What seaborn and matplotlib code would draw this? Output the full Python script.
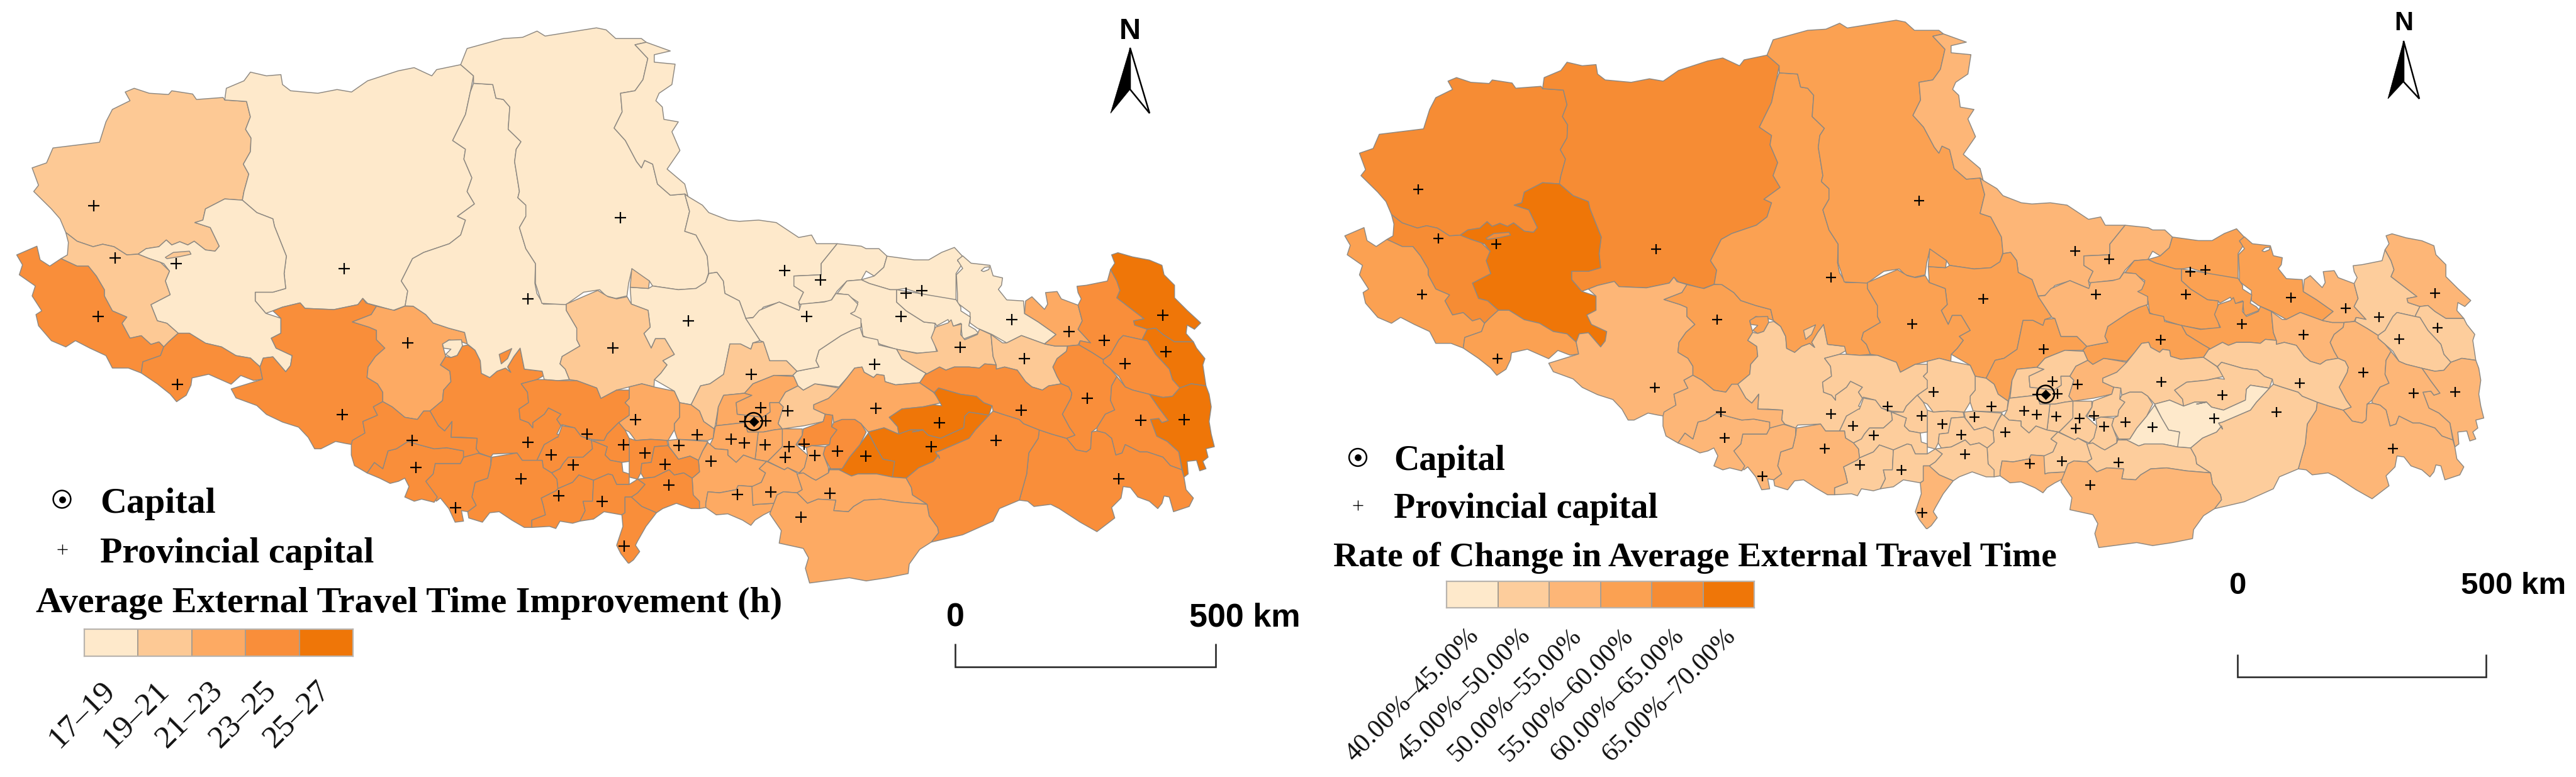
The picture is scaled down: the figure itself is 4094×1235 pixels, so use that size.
import matplotlib
matplotlib.use("Agg")
import matplotlib.pyplot as plt
from matplotlib.colors import ListedColormap
import numpy as np
import pandas as pd
import seaborn as sns

CROPS = {"A": (0, 0, 1.96, 2.53), "B": (0, 600, 1.96, 2.47), "C": (800, 0, 1.96, 2.53),
         "F": (500, 450, 3, 3), "G": (1000, 450, 3, 3), "H": (1450, 350, 3, 3)}

BORDERS = [
 ("Rutog", 1, 4, "A 390,370 418,355 465,375 525,380 535,365 600,378 612,400 695,392 700,402 768,408 780,470 765,520 782,555 780,610 758,660 775,700 760,770 755,805 700,800 640,840 632,885 607,895 655,915 683,990 670,1010 640,1005 605,970 585,985 560,972 535,985 518,965 495,992 455,1000 430,1022 395,1025 365,1000 355,992 320,982 290,992 240,970 205,935 187,880 160,840 105,770 120,745 100,675 145,655 165,595 260,580 310,572 330,490 350,440 405,405"),
 ("Gerze", 0, 4, "A 700,402 705,355 760,325 780,290 830,305 875,300 880,340 905,365 990,375 1050,360 1095,370 1145,325 1240,285 1290,272 1345,305 1360,280 1435,260 1475,305 1465,370 1450,460 1410,565 1450,600 1445,640 1470,715 1455,770 1478,820 1425,870 1450,885 1435,945 1400,980 1320,1015 1285,1040 1250,1130 1270,1170 1262,1230 1225,1248 1175,1230 1145,1220 1130,1200 1115,1225 1040,1245 950,1240 935,1218 880,1235 850,1250 828,1260 795,1210 795,1175 850,1175 890,1160 885,1100 892,1030 855,910 850,880 800,855 755,805 760,770 775,700 758,660 780,610 782,555 765,520 780,470 768,408"),
 ("Gar", 0, 5, "A 755,805 800,855 850,880 855,910 892,1030 885,1100 890,1160 850,1175 795,1175 795,1210 828,1260 875,1280 875,1340 845,1360 860,1400 910,1430 905,1470 890,1495 850,1435 820,1440 810,1475 780,1440 735,1430 690,1395 640,1380 590,1340 555,1340 520,1300 490,1290 470,1225 530,1185 515,1130 528,1090 510,1060 500,1055 465,1040 430,1022 455,1000 495,992 518,965 535,985 560,972 585,985 605,970 640,1005 670,1010 683,990 655,915 607,895 632,885 640,840 700,800"),
 ("GarIsle", 1, 4, "A 515,1035 540,1015 590,1010 595,1022 560,1032 520,1040"),
 ("Ngari", 1, 4, "A 205,935 240,970 290,992 320,982 355,992 365,1000 395,1025 430,1022 465,1040 500,1055 528,1090 515,1130 530,1185 470,1225 490,1290 520,1300 555,1340 525,1375 510,1395 495,1375 470,1385 440,1350 405,1360 380,1300 395,1275 350,1250 325,1190 325,1165 300,1110 275,1070 240,1070 190,1040 210,1025 213,975"),
 ("Zanda", 3, 3, "A 52,1025 115,990 125,1045 155,1070 190,1040 240,1070 275,1070 300,1110 325,1165 325,1190 350,1250 395,1275 380,1300 405,1360 440,1350 470,1385 495,1375 510,1395 500,1430 445,1455 440,1500 400,1480 350,1480 330,1430 280,1400 235,1370 205,1395 160,1370 120,1310 112,1265 130,1250 100,1190 110,1150 60,1105 70,1065"),
 ("Burang", 3, 3, "A 555,1340 590,1340 640,1380 690,1395 735,1430 780,1440 810,1475 818,1525 790,1530 750,1510 720,1545 650,1505 598,1520 B 595,30 580,70 550,95 530,65 490,25 A 440,1500 445,1455 500,1430 510,1395 525,1375"),
 ("Zhongba", 3, 2, "A 850,1250 880,1235 935,1218 950,1240 1040,1245 1115,1225 1130,1200 F 245,95 295,110 270,150 180,185 260,210 295,225 295,270 335,310 290,350 255,400 250,450 300,480 325,520 325,565 280,590 300,630 230,660 240,715 180,770 150,765 100,755 30,790 0,790 B 960,235 930,195 880,175 830,145 800,110 735,80 720,45 A 818,1525 810,1475 820,1440 850,1435 890,1495 905,1470 910,1430 860,1400 845,1360 875,1340 875,1280"),
 ("Coqen", 2, 3, "F 295,110 380,130 430,110 470,110 530,150 565,190 640,215 715,235 728,290 700,280 640,270 610,295 625,350 600,390 645,420 650,470 615,510 610,560 550,610 520,610 490,650 430,640 370,590 325,565 325,520 300,480 250,450 255,400 290,350 335,310 295,270 295,225 260,210 180,185 270,150"),
 ("CoqenPocket", 0, 3, "F 610,290 640,272 700,270 705,300 680,345 650,355 625,340 650,315 615,310"),
 ("Saga", 3, 1, "F 600,390 645,420 650,470 615,510 610,560 550,610 590,680 620,705 640,680 655,660 650,735 700,735 775,740 770,790 785,810 840,830 850,815 965,810 990,845 1060,845 1095,770 1160,735 1180,725 1155,720 1175,680 1155,650 1175,625 1115,595 1095,625 1040,665 1040,690 1020,665 980,650 975,600 1020,570 1015,520 985,480 1060,460 1095,440 1085,420 1000,410 980,310 950,350 920,400 935,425 910,405 870,420 835,450 795,430 790,370 765,320 730,295 705,300 680,345 650,355 625,350"),
 ("Nyima", 0, 3, "F 470,110 530,150 565,190 640,215 715,235 728,290 765,320 790,370 795,430 835,450 870,420 910,405 935,425 920,400 950,350 980,310 1000,410 1085,420 1095,460 1160,465 1215,460 1195,410 1170,385 1180,350 1265,300 1250,270 1250,215 1200,130 1200,100 1090,100 1060,50 1050,0 C 100,1060 70,1000 50,915 70,870 70,825 45,795 50,770 35,650 40,600 55,570 15,520 20,430 0,400 A 1545,395 1535,340 1475,335 1465,370 1450,460 1410,565 1450,600 1445,640 1470,715 1455,770 1478,820 1425,870 1450,885 1435,945 1400,980 1320,1015 1285,1040 1250,1130 1270,1170 1262,1230"),
 ("NyimaIsle", 3, 1, "F 880,340 940,312 920,360 890,385"),
 ("Shuanghu", 0, 3, "A 1435,260 1455,195 1568,155 C 60,150 105,125 130,145 290,112 320,120 350,155 430,155 445,170 410,180 450,235 435,320 410,365 365,375 370,450 345,515 380,565 415,650 430,675 440,645 465,660 480,740 520,785 565,780 580,850 565,930 600,945 635,1030 640,1095 630,1135 600,1160 545,1165 465,1150 455,1130 400,1085 390,1140 385,1190 350,1200 320,1190 300,1165 250,1175 195,1225 120,1220 100,1140 100,1060 70,1000 50,915 70,870 70,825 45,795 50,770 35,650 40,600 55,570 15,520 20,430 0,400 A 1545,395 1535,340 1475,335 1475,305"),
 ("NorthStrip", 0, 2, "C 410,180 445,170 520,205 470,220 470,250 535,258 525,340 485,375 475,405 495,430 500,480 545,490 525,530 550,605 510,680 565,740 575,790 565,780 520,785 480,740 465,660 440,645 430,675 415,650 380,565 345,515 370,450 365,375 410,365 435,320 450,235"),
 ("Amdo", 0, 2, "C 575,790 620,825 640,855 700,885 735,890 795,885 850,895 920,955 960,945 975,980 1040,980 990,1060 990,1105 905,1110 905,1150 935,1175 920,1215 925,1250 860,1215 810,1235 785,1275 755,1280 735,1210 690,1180 685,1130 665,1095 640,1100 635,1030 600,945 565,930 580,850 565,780"),
 ("Nagqu", 0, 2, "C 1040,980 1115,990 1130,1000 1170,1000 1195,1030 1185,1075 1155,1110 1130,1090 1115,1125 1070,1130 1040,1170 1020,1210 925,1225 920,1215 935,1175 905,1150 905,1110 990,1105 990,1060"),
 ("Biru", 0, 3, "C 1195,1030 1280,1045 1325,1045 1365,1015 1405,995 1430,1030 1415,1050 1430,1060 1410,1100 1410,1205 1380,1210 1300,1180 1250,1160 1225,1165 1205,1165 1140,1140 1115,1125 1155,1110 1185,1075"),
 ("Dengqen", 0, 3, "H 240,170 280,205 370,215 385,265 430,275 425,310 410,330 450,380 530,385 535,445 600,485 685,545 630,590 575,570 520,550 450,585 380,545 310,515 275,490 275,440 215,395 215,350 210,260 240,230 215,190"),
 ("Lake", None, None, "H 328,240 345,225 368,222 365,235 340,245"),
 ("Lhari", 0, 3, "C 1115,1125 1140,1140 1205,1165 1225,1165 1225,1215 1255,1250 1310,1295 1345,1300 1340,1365 1350,1415 1290,1420 1225,1405 1175,1385 1120,1350 1115,1300 1080,1265 1105,1215 1070,1185 1040,1180 1070,1130"),
 ("Sog", 0, 3, "C 1225,1165 1410,1205 1425,1235 1425,1250 1455,1275 1450,1310 1470,1325 1480,1340 1430,1365 1425,1300 1395,1315 1385,1285 1350,1310 1345,1300 1310,1295 1255,1250 1225,1215"),
 ("Xainza", 0, 3, "C 395,1155 452,1160 465,1150 545,1165 600,1160 630,1135 640,1100 665,1095 685,1130 690,1180 735,1210 755,1280 G 624,274 590,285 580,315 530,290 480,290 450,435 385,480 340,490 295,580 240,570 215,515 120,460 150,430 180,390 160,370 215,340 170,265 125,265 105,310 70,240 100,210 90,130 10,100"),
 ("XainzaNotch", 1, 3, "C 400,1080 455,1130 452,1160 395,1155"),
 ("Ngamring", 1, 3, "F 1200,100 1280,65 1350,35 1400,65 1440,75 1490,65 G 10,100 90,130 100,210 70,240 105,310 125,265 170,265 215,340 160,370 180,390 150,430 120,460 118,495 60,480 0,495 F 1440,510 1365,550 1345,500 1250,465 1215,460 1195,410 1170,385 1180,350 1265,300 1250,270 1250,215 1200,130"),
 ("Nam", 1, 3, "G 480,290 530,290 580,315 590,285 640,280 670,370 750,370 800,420 780,440 690,440 590,480 550,525 450,535 425,590 410,680 405,695 355,660 335,610 295,580 340,490 385,480 450,435"),
 ("Damxung", 2, 1, "G 450,535 550,525 585,535 510,570 515,625 560,630 550,665 415,680 425,590"),
 ("Lhunzhub", 2, 1, "G 510,570 585,535 550,525 590,480 690,440 785,445 805,490 745,520 715,570 670,570 672,615 635,640 560,630 515,625"),
 ("Lhasa", 2, 1, "G 635,640 672,615 670,570 715,570 735,590 710,670 730,695 690,700 640,710 615,710 565,710 550,665 560,630"),
 ("Maizhokunggar", 1, 2, "G 745,520 805,490 830,510 885,480 1000,500 990,515 950,550 880,580 880,600 935,625 925,660 835,680 730,695 710,670 735,590 715,570"),
 ("Baqen", 0, 3, "G 780,440 800,420 850,410 905,400 890,370 905,320 950,290 1010,250 1060,225 1100,210 1115,255 1185,270 1190,295 1275,315 1300,360 1380,410 1415,430 1385,475 1270,485 1220,470 1215,440 1180,435 1165,450 1120,425 1110,400 1075,405 1040,450 1000,495 885,480 830,510 805,490 785,445"),
 ("Jiali", 0, 2, "G 555,168 590,165 620,130 715,90 810,130 820,100 930,90 965,80 985,50 1045,55 1090,100 1075,135 1055,145 1105,170 1105,210 1060,225 1010,250 950,290 905,320 890,370 905,400 850,410 800,420 750,370 670,370 640,280 625,275"),
 ("Bome", 1, 3, "G 1275,315 1370,335 H 120,625 90,560 110,510 170,490 185,475 195,505 235,495 230,545 250,570 310,545 320,520 375,545 380,600 385,650 400,690 345,685 320,705 270,700 200,700 160,715 130,700 65,735 G 1415,430 1380,410 1300,360"),
 ("Riwoqe", 1, 2, "H 375,545 430,585 450,585 520,550 575,570 630,590 680,600 740,600 735,625 690,660 670,700 690,745 710,780 650,790 620,810 570,795 540,770 500,715 440,700 400,710 400,690 385,650 380,600"),
 ("Zhag", 2, 2, "H 535,445 540,385 570,365 610,405 630,425 645,400 635,345 690,340 710,375 790,405 810,480 790,520 850,585 800,575 790,595 740,600 680,600 630,590 685,545 600,485"),
 ("Qamdo", 3, 1, "H 785,315 830,310 880,300 930,290 945,235 975,290 990,335 975,370 1040,420 1105,470 1055,480 1060,500 1120,520 1095,570 1005,550 985,570 945,640 910,665 855,630 795,595 800,575 850,585 790,520 810,480 790,405 805,375 790,345"),
 ("Gonjo", 4, 2, "H 950,165 980,155 1050,175 1130,190 1190,215 1200,260 1250,310 1250,370 1310,430 1375,490 1345,520 1310,500 1305,540 1340,580 1250,580 1195,545 1160,515 1120,520 1060,500 1055,480 1105,470 1040,420 975,370 990,335 975,290 945,235 965,205"),
 ("Jomda", 4, 1, "H 1160,515 1195,545 1250,580 1340,580 1355,610 1395,660 1385,690 1400,790 1330,780 1275,800 1240,760 1225,710 1160,640 1120,575 1095,570 1120,520"),
 ("Chagyab", 3, 1, "H 1005,550 1095,570 1120,575 1160,640 1225,710 1240,760 1275,800 1240,840 1195,845 1130,830 1050,810 1015,795 985,745 945,710 910,680 910,665 945,640 985,570"),
 ("Markam", 4, 2, "H 1130,830 1195,845 1240,840 1275,800 1330,780 1400,790 1415,830 1425,890 1415,960 1425,1020 1440,1080 1400,1090 1410,1130 1385,1150 1400,1185 1370,1195 1355,1145 1310,1150 1315,1210 1295,1225 1270,1105 1215,1055 1165,1030 1135,950 1175,945 1190,965 1220,955 1175,895"),
 ("Banbar", 3, 2, "H 795,595 855,630 910,665 910,680 945,710 975,745 950,790 945,860 965,905 920,925 880,990 855,1010 850,1090 830,1105 780,1095 735,1040 775,1025 750,990 715,925 755,850 760,825 745,795 710,780 690,745 670,700 690,660 735,625 740,600"),
 ("Zogang", 3, 2, "H 975,745 1015,795 1050,810 1130,830 1175,895 1220,955 1190,965 1175,945 1135,950 1165,1030 1215,1055 1270,1105 1285,1190 1230,1170 1195,1130 1120,1105 1085,1105 1015,1070 1000,1110 970,1120 950,1040 920,1015 880,1005 880,990 920,925 965,905 945,860 950,790"),
 ("Zayu", 3, 2, "H 605,1000 665,1020 735,1040 780,1095 830,1105 850,1090 855,1010 880,1005 920,1015 950,1040 970,1120 1000,1110 1015,1070 1085,1105 1120,1105 1195,1130 1230,1170 1285,1190 1295,1225 1305,1285 1340,1325 1320,1365 1245,1390 1225,1320 1200,1315 1190,1350 1170,1375 1130,1340 1075,1320 1040,1275 1005,1270 995,1325 950,1370 965,1420 880,1485 800,1440 700,1375 660,1355 580,1365 550,1340 510,1335 545,1210 555,1110 600,1040"),
 ("Medog", 3, 1, "H 385,910 430,925 510,950 530,970 605,1000 600,1040 555,1110 545,1210 510,1335 415,1375 385,1435 240,1500 G 1440,1235 1475,1190 1470,1165 1430,1110 1420,1055 1350,1010 1345,975 1320,930 1380,880 1450,850 1475,820 H 130,1135 110,1105 130,1100 270,1040 300,1000 365,930"),
 ("Gongbo", 2, 1, "G 880,580 950,550 1000,500 1040,450 1075,405 1110,400 1120,425 1165,450 1180,435 1215,440 1220,470 1270,485 1385,475 1450,520 1490,570 1400,590 1300,600 1240,640 1280,685 1285,720 1215,690 1140,710 1105,670 1075,650 1015,650 975,665 970,630 935,625 880,600"),
 ("Band", 3, 1, "G 1385,475 1415,430 H 65,735 130,700 160,715 200,700 270,700 320,705 345,685 400,690 400,710 440,700 500,715 540,770 570,795 620,810 650,790 710,780 745,795 760,825 755,850 715,925 750,990 775,1025 735,1040 665,1020 605,1000 530,970 510,950 430,925 385,910 380,885 340,870 305,840 230,830 125,800 105,822"),
 ("Nyingchi", 4, 1, "H 105,822 125,800 230,830 305,840 340,870 380,885 365,930 270,915 250,935 245,990 190,1015 135,1040 75,1025 50,1000 0,1010 G 1400,700 1340,700 1285,720 1280,685 1240,640 1300,600 1400,590 1450,580 H 140,885"),
 ("Mainling", 4, 0, "G 1140,710 1215,690 1285,720 1340,700 1400,700 H 0,1010 50,1000 75,1025 135,1040 190,1015 245,990 250,935 270,915 365,930 300,1000 270,1040 130,1100 110,1105 130,1135 G 1475,820 1450,850 1380,880 1320,930 1250,925 1265,850 1210,840 1175,780"),
 ("Lang", 4, 0, "G 1140,715 1175,780 1210,840 1265,850 1255,925 1180,910 1090,910 1060,920 1000,890 955,880 950,910 960,885 1015,885 1050,830 1100,770"),
 ("Gyaca", 3, 1, "G 975,665 1015,650 1075,650 1105,670 1130,710 1100,770 1050,830 1015,885 960,885 935,840 925,815 935,780 955,770 960,740 990,700 965,685"),
 ("Sangri", 3, 1, "G 830,695 925,660 935,625 970,630 965,685 990,700 960,740 955,770 870,775 845,785 800,770 825,725"),
 ("Qusum", 2, 1, "G 845,785 870,775 935,780 925,815 950,880 950,905 890,940 870,930 830,905 810,910 835,875 850,820"),
 ("Nedong", 2, 1, "G 730,695 825,695 825,725 795,770 850,820 835,880 810,905 755,880 740,890 660,850 710,800 725,780 730,720"),
 ("Gonggar", 2, 1, "G 615,710 640,710 690,700 730,695 730,780 710,800 660,850 600,840 605,800"),
 ("Qushui", 2, 1, "G 410,685 415,680 550,665 565,710 615,710 605,800 600,840 545,820 510,855 470,820 470,795 410,790 385,770 400,740"),
 ("Nagarze", 2, 1, "G 375,760 410,790 470,795 470,820 510,855 545,820 600,840 655,850 620,885 650,905 630,950 590,970 520,965 510,985 430,1000 375,995 365,1050 365,1070 335,1075 305,1010 300,930 335,900 330,845 350,800"),
 ("Rinbung", 2, 1, "G 240,570 295,580 335,610 355,660 405,695 400,740 375,750 230,745 215,700 215,670 240,640"),
 ("Namling", 2, 1, "G 185,750 230,745 375,755 350,800 330,845 290,825 235,840 190,780"),
 ("Xaitongmoin", 2, 1, "G 0,495 60,480 118,495 215,515 240,570 240,640 215,670 215,700 185,750 100,745 30,750 0,710 F 1480,700 1450,665 1500,630 1480,570 1500,550 1500,510"),
 ("Bainang", 3, 1, "G 0,740 30,750 105,745 180,750 185,775 120,780 105,855 60,860 55,905 40,935 0,925"),
 ("Gyangze", 3, 1, "G 120,780 185,775 235,840 290,825 330,845 335,900 300,930 260,905 215,915 190,890 120,925 70,930 55,905 60,860 105,855"),
 ("Kangmar", 3, 1, "G 40,935 75,930 120,925 190,890 215,915 260,905 300,930 305,1010 335,1040 335,1075 295,1075 225,1050 160,1075 130,1095 60,1065 20,1030 10,1020 40,1000 75,960"),
 ("Panam", 3, 1, "F 985,480 1060,460 1095,460 1160,465 1250,465 1345,500 1365,550 1440,510 1500,510 1500,550 1480,570 1500,590 1500,630 1450,665 1395,720 1380,750 1320,745 1270,730 1240,690 1180,675 1175,680 1155,650 1175,625 1115,595 1095,625 1040,665 1040,690 1020,665 980,650 975,600 1020,570 1015,520"),
 ("Samzhubze", 3, 1, "F 1320,750 1380,750 1395,720 1450,665 1480,700 1500,740 1500,850 1465,855 1410,845 1385,820 1395,780"),
 ("Sa", 3, 1, "F 1160,735 1180,680 1240,690 1270,730 1320,750 1325,790 1280,830 1210,830 1185,860 1170,885 1130,905 1090,880 1085,845 1060,845 1095,770 1155,735"),
 ("Lhatse", 3, 1, "F 1185,860 1210,830 1280,830 1325,790 1320,750 1395,780 1385,820 1410,845 1465,855 1470,900 1500,910 1500,960 1440,960 1420,915 1400,910 1330,940 1260,915 1230,950 1160,980 1155,935 1130,905 1170,885"),
 ("Dinggye", 3, 1, "F 1160,980 1230,950 1260,915 1330,940 1325,1040 1280,1040 1290,1085 1265,1135 1230,1145 1170,1135 1150,1170 1120,1160 1035,1165 1035,1130 1100,1105 1090,1060 1080,1025 1150,990"),
 ("Gamba", 3, 1, "F 1330,940 1400,910 1420,915 1440,960 1500,960 G 40,935 75,960 40,1000 10,1020 F 1480,1020 1480,1095 1465,1105 1380,1090 1330,1125 1265,1135 1290,1085 1280,1040 1325,1040"),
 ("Yadong", 3, 2, "F 1480,1020 G 10,1020 60,1065 130,1095 80,1160 40,1230 30,1250 50,1280 20,1320 0,1335 F 1495,1335 1460,1290 1440,1250 1470,1160 1465,1105 1480,1095"),
 ("Tingri", 3, 2, "F 845,830 965,810 990,845 1060,845 1085,845 1090,880 1130,905 1155,935 1160,980 1150,990 1080,1025 1090,1060 1100,1105 1035,1130 1035,1165 1000,1165 940,1130 880,1090 835,1095 800,1140 735,1120 730,1090 770,1060 750,1020 765,950 825,930 840,865"),
 ("Nyalam", 3, 2, "F 530,945 565,910 575,860 640,860 695,860 710,830 775,810 840,830 840,865 825,930 765,950 750,1020 770,1060 730,1090 700,1085 710,1135 670,1140 640,1075 600,1025 580,1040"),
 ("Gyirong", 3, 2, "F 250,905 285,855 325,885 350,800 390,790 445,755 495,770 570,790 630,785 710,800 710,830 695,860 640,860 575,860 565,910 530,945 585,1020 570,1045 510,1030 475,1040 430,1020 450,970 430,930 400,945 360,955 310,930"),
 ("Zhongba2", 3, 2, "F 175,770 180,750 240,715 230,660 300,630 280,590 325,565 370,590 430,640 490,650 520,610 550,610 590,680 620,705 640,680 655,660 650,735 775,740 770,790 785,810 710,830 710,800 630,785 570,790 495,770 445,755 390,790 350,800 325,885 285,855 250,905 190,870 175,820"),
 ("Cona", 2, 2, "G 375,995 430,1000 510,985 520,965 590,970 590,1060 605,1055 690,1050 680,1085 640,1105 600,1130 580,1155 540,1130 470,1100 415,1105 365,1070 365,1050"),
 ("Lhozhag", 2, 1, "G 585,970 630,950 650,905 620,885 655,850 740,890 755,880 800,905 825,985 800,1000 735,995 705,1010 690,1050 605,1055 590,1060"),
 ("Nagarze2", 2, 1, "G 800,910 830,905 870,930 890,940 950,905 955,890 1000,890 1060,920 1090,910 1180,910 1255,925 1320,930 1345,975 1350,1010 1420,1055 1300,1045 1200,1030 1120,1035 1070,1065 1045,1090 975,1085 985,1035 900,1030 850,1050 800,1000 825,985"),
 ("Lhunze", 2, 2, "G 705,1010 735,995 800,1000 850,1050 900,1030 985,1035 975,1085 1045,1090 1070,1065 1120,1035 1200,1030 1300,1045 1420,1055 1430,1110 1470,1165 1475,1190 1440,1235 1385,1270 1335,1340 1330,1385 1230,1405 1130,1420 1050,1405 860,1430 840,1360 855,1310 830,1265 715,1240 725,1180 670,1100 690,1050"),
]

POINTS = ("A 293,828 358,1037 548,1060 1072,1080 305,1272 553,1545 "
          "F 445,285 133,628 465,750 483,880 672,1072 1017,75 1017,760 1127,818 1233,867 1300,720 1473,770 "
          "985,933 1163,1015 1370,1040 1475,1255 1423,308 "
          "C 365,875 877,1088 988,1125 1254,1178 1303,1170 "
          "G 282,180 845,160 1295,158 583,435 1170,388 628,595 755,610 652,657 552,660 1175,598 323,722 237,775 "
          "30,650 75,810 170,865 190,962 485,743 550,762 648,772 763,780 743,832 835,768 885,823 993,800 "
          "1128,825 390,850 515,1008 675,995 958,1003 818,1117 "
          "H 473,475 748,530 915,572 1195,452 1208,628 1015,685 535,660 835,850 518,905 1090,955 1297,950 "
          "130,965 90,1080 400,1050 985,1232 227,607")
CAPITAL = "G 593,660"

COLORS_1 = ["#FEE9CB", "#FDC995", "#FDAA63", "#F98E3A", "#EF7608"]
COLORS_2 = ["#FEE9CB", "#FDCD9C", "#FDB677", "#FBA152", "#F68C34", "#EF7608"]
TICKS_1 = ["17–19", "19–21", "21–23", "23–25", "25–27"]
TICKS_2 = ["40.00%–45.00%", "45.00%–50.00%", "50.00%–55.00%", "55.00%–60.00%", "60.00%–65.00%", "65.00%–70.00%"]
TITLE_1 = "Average External Travel Time Improvement (h)"
TITLE_2 = "Rate of Change in Average External Travel Time"
EDGE = "#8d8881"


def parse(text):
    out, crop = [], None
    for tok in text.split():
        if tok in CROPS:
            crop = CROPS[tok]
        else:
            x, y = map(float, tok.split(","))
            out.append((crop[0] + x / crop[2], crop[1] + y / crop[3]))
    return np.array(out)


sns.set_theme(style="white")
plt.rcParams["font.family"] = ["Liberation Serif", "DejaVu Sans"]
W, H = 4094, 1235
fig = plt.figure(figsize=(W / 100, H / 100), dpi=100, facecolor="white")

ax1 = fig.add_axes([0, 0, 0.5, 1])
ax1.set_xlim(0, W / 2)
ax1.set_ylim(H, 0)
SX, OX, SY, OY = 0.951, 2112, 0.95, -10
ax2 = fig.add_axes([0.5, 0, 0.5, 1])
ax2.set_xlim((W / 2 - OX) / SX, (W - OX) / SX)
ax2.set_ylim((H - OY) / SY, (0 - OY) / SY)

pts = parse(POINTS)
cap = parse(CAPITAL)
points = pd.DataFrame({"x": pts[:, 0], "y": pts[:, 1]})
capital = pd.DataFrame({"x": cap[:, 0], "y": cap[:, 1]})

for ax, colors, which, plus_size in ((ax1, COLORS_1, 0, 150), (ax2, COLORS_2, 1, 130)):
    for name, c1, c2, text in BORDERS:
        cls = c1 if which == 0 else c2
        face = "white" if cls is None else colors[cls]
        xy = parse(text)
        ax.fill(xy[:, 0], xy[:, 1], facecolor=face, edgecolor=EDGE, linewidth=1.05, joinstyle="round", zorder=2)
    sns.scatterplot(data=points, x="x", y="y", marker="+", s=plus_size, color="black", linewidth=1.6, ax=ax, zorder=4)
    sns.scatterplot(data=capital, x="x", y="y", marker="o", s=400, facecolor="none", edgecolor="black", linewidth=1.8, ax=ax, zorder=5)
    sns.scatterplot(data=capital, x="x", y="y", marker="D", s=70, color="black", linewidth=0, ax=ax, zorder=5)
    ax.set_xlabel("")
    ax.set_ylabel("")
    ax.axis("off")

# ---------- overlay in picture pixels for legends, scale bars and north arrows ----------
ov = fig.add_axes([0, 0, 1, 1], zorder=10)
ov.set_xlim(0, W)
ov.set_ylim(H, 0)
ov.axis("off")
ov.patch.set_alpha(0)

LEGENDS = [
    dict(icon_x=98.5, cap_y=793.5, prov_y=873, text_x=159, cap_base=814.6, prov_base=893.5,
         title=TITLE_1, title_x=57, title_base=972.5, size=41.8, title_size=41.9,
         box=(134, 1000, 561, 1043), colors=COLORS_1, ticks=TICKS_1, tick_x0=130, tick_dx=85.5, tick_y=1136, tick_size=37),
    dict(icon_x=2158, cap_y=727, prov_y=803, text_x=2215, cap_base=747, prov_base=822.6,
         title=TITLE_2, title_x=2119, title_base=899.5, size=40.2, title_size=39.9,
         box=(2299, 924, 2788, 966), colors=COLORS_2, ticks=TICKS_2, tick_x0=2245, tick_dx=81.5, tick_y=1105, tick_size=30.5),
]
for L in LEGENDS:
    ov.scatter([L["icon_x"]], [L["cap_y"]], marker="o", s=400, facecolor="none", edgecolor="black", linewidth=1.8)
    ov.scatter([L["icon_x"]], [L["cap_y"]], marker="o", s=60, color="black", linewidth=0)
    ov.scatter([L["icon_x"]], [L["prov_y"]], marker="+", s=120, color="black", linewidth=1.0)
    ov.text(L["text_x"], L["cap_base"], "Capital", fontsize=L["size"], fontweight="bold", va="baseline", ha="left", color="black")
    ov.text(L["text_x"], L["prov_base"], "Provincial capital", fontsize=L["size"], fontweight="bold", va="baseline", ha="left", color="black")
    ov.text(L["title_x"], L["title_base"], L["title"], fontsize=L["title_size"], fontweight="bold", va="baseline", ha="left", color="black")
    x0, y0, x1, y1 = L["box"]
    cax = fig.add_axes([x0 / W, 1 - y1 / H, (x1 - x0) / W, (y1 - y0) / H], zorder=11)
    n = len(L["colors"])
    sns.heatmap(np.arange(n).reshape(1, n), cmap=ListedColormap(L["colors"]), cbar=False, linewidths=1.1,
                linecolor="#a89d90", xticklabels=False, yticklabels=False, ax=cax)
    for s in cax.spines.values():
        s.set_visible(True)
        s.set_color("#b9b4ae")
        s.set_linewidth(1.6)
    for i, t in enumerate(L["ticks"]):
        ov.text(L["tick_x0"] + i * L["tick_dx"], L["tick_y"], t, rotation=45, rotation_mode="anchor",
                ha="center", va="center", fontsize=L["tick_size"], color="#111111")

SCALES = [
    dict(zero=(1518, 996), five=(1890, 996), bar=(1518, 1932, 1023, 1060), size=37.5),
    dict(zero=(3557, 944), five=(3911, 944), bar=(3556, 3951, 1040, 1076), size=35.5),
]
for S in SCALES:
    ov.text(*S["zero"], "0", ha="center", va="baseline", fontsize=S["size"], fontweight="bold", family="Liberation Sans", color="black")
    ov.text(*S["five"], "500 km", ha="left", va="baseline", fontsize=S["size"], fontweight="bold", family="Liberation Sans", color="black")
    xl, xr, yt, yb = S["bar"]
    ov.plot([xl, xl, xr, xr], [yt, yb, yb, yt], color="#2b2b2b", lw=1.9, solid_joinstyle="miter", solid_capstyle="butt")

NORTH = [dict(tip=(1796, 76), notch_y=142, base_y=180, half=31, n_y=50, n_size=34),
         dict(tip=(3820, 65), notch_y=130, base_y=157, half=25, n_y=37, n_size=30)]
for N in NORTH:
    tx, ty = N["tip"]
    ov.fill([tx, tx, tx - N["half"]], [ty, N["notch_y"], N["base_y"]], color="black", lw=0.5)
    ov.fill([tx, tx, tx + N["half"]], [ty, N["notch_y"], N["base_y"]], facecolor="white", edgecolor="black", lw=1.8)
    ov.text(tx, N["n_y"], "N", ha="center", va="center", fontsize=N["n_size"], family="Liberation Sans", fontweight="bold", color="black")

fig.savefig("out.png", dpi=100, facecolor="white")
